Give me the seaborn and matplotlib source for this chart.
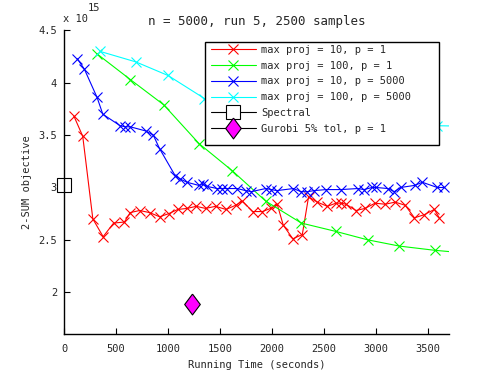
import matplotlib
matplotlib.use("Agg")
import matplotlib.pyplot as plt
from matplotlib.patches import Rectangle
import seaborn as sns

# objective values are in units of 1e15
red_t = [96, 180, 277, 376, 477, 581, 636, 726, 823, 919, 1006, 1093, 1183, 1270,
         1360, 1456, 1557, 1649, 1714, 1813, 1906, 1986, 2049, 2107, 2199, 2290,
         2350, 2435, 2531, 2613, 2666, 2710, 2806, 2893, 2989, 3086, 3182, 3279,
         3368, 3462, 3558, 3607]
red_v = [3.68, 3.49, 2.70, 2.53, 2.66, 2.67, 2.76, 2.78, 2.76, 2.72, 2.75, 2.79, 2.80, 2.82,
         2.80, 2.82, 2.79, 2.83, 2.87, 2.77, 2.77, 2.80, 2.84, 2.64, 2.51, 2.55,
         2.91, 2.86, 2.82, 2.85, 2.85, 2.84, 2.78, 2.80, 2.85, 2.84, 2.86, 2.83,
         2.71, 2.74, 2.79, 2.71]

green_t = [313, 639, 958, 1297, 1617, 1938, 2281, 2613, 2917, 3224, 3561, 3900]
green_v = [4.28, 4.03, 3.79, 3.42, 3.16, 2.87, 2.66, 2.58, 2.50, 2.44, 2.40, 2.37]

blue_t = [128, 196, 318, 373, 540, 588, 636, 786, 858, 919, 1070, 1119, 1181, 1295,
          1337, 1376, 1472, 1521, 1569, 1665, 1745, 1800, 1938, 1993, 2044, 2205,
          2276, 2340, 2404, 2517, 2661, 2823, 2883, 2960, 2999, 3112, 3173, 3235,
          3370, 3443, 3587, 3655]
blue_v = [4.23, 4.13, 3.86, 3.70, 3.59, 3.58, 3.58, 3.54, 3.50, 3.37, 3.11, 3.08, 3.05, 3.02,
          3.03, 3.01, 2.99, 2.99, 2.99, 2.99, 2.97, 2.96, 2.99, 2.98, 2.97, 2.99,
          2.96, 2.96, 2.97, 2.98, 2.98, 2.99, 2.98, 3.00, 3.00, 2.99, 2.96, 3.00,
          3.02, 3.05, 3.00, 3.00]

cyan_t = [347, 690, 1000, 1350, 1678, 1996, 2314, 2633, 2951, 3269, 3587, 3915]
cyan_v = [4.30, 4.20, 4.07, 3.85, 3.75, 3.69, 3.65, 3.62, 3.61, 3.60, 3.59, 3.585]

spectral_t = [0]
spectral_v = [3.02]
gurobi_t = [1234]
gurobi_v = [1.89]

labels = ["max proj = 10, p = 1", "max proj = 100, p = 1",
          "max proj = 10, p = 5000", "max proj = 100, p = 5000",
          "Spectral", "Gurobi 5% tol, p = 1"]

x_ticks = [0, 500, 1000, 1500, 2000, 2500, 3000, 3500]
y_ticks = [2, 2.5, 3, 3.5, 4, 4.5]

sns.set_style("white")
plt.rcParams['font.family'] = ['DejaVu Sans Mono']
plt.rcParams['font.size'] = 7.5
plt.rcParams['xtick.direction'] = 'in'
plt.rcParams['ytick.direction'] = 'in'

fig = plt.figure(figsize=(4.95, 3.75), dpi=100)
ax = fig.add_axes([0.1293, 0.1093, 0.7778, 0.8094])

series = [(red_t, red_v, "#ff0000"), (green_t, green_v, "#00ff00"),
          (blue_t, blue_v, "#0000ff"), (cyan_t, cyan_v, "#00ffff")]
for (t, v, c), lab in zip(series, labels[:4]):
    sns.lineplot(x=t, y=v, color=c, marker='x', markersize=6.5, markeredgewidth=0.8,
                 markeredgecolor=c, linewidth=0.8, label=lab, sort=False,
                 estimator=None, ax=ax, legend=False)

sns.lineplot(x=spectral_t, y=spectral_v, color='black', marker='s', markersize=10,
             markerfacecolor='white', markeredgecolor='black', markeredgewidth=0.8,
             linewidth=0.8, label=labels[4], clip_on=False, ax=ax, legend=False)
diamond = [(0, 1), (0.75, 0), (0, -1), (-0.75, 0), (0, 1)]
sns.lineplot(x=gurobi_t, y=gurobi_v, color='black', marker=diamond, markersize=15,
             markerfacecolor='#ff00ff', markeredgecolor='black', markeredgewidth=0.8,
             linewidth=0.8, label=labels[5], clip_on=False, ax=ax, legend=False)

ax.set_xlim(0, 3700)
ax.set_ylim(1.6, 4.5)
ax.set_xticks(x_ticks)
ax.set_xticklabels([str(v) for v in x_ticks])
ax.set_yticks(y_ticks)
ax.set_yticklabels([f"{v:g}" for v in y_ticks])
ax.tick_params(length=4, width=0.8, color='black', pad=7, bottom=True, left=True)
ax.tick_params(axis='y', pad=5)
for side in ['top', 'right']:
    ax.spines[side].set_visible(False)
for side in ['left', 'bottom']:
    ax.spines[side].set_color('black')
    ax.spines[side].set_linewidth(1.0)

ax.set_title("n = 5000, run 5, 2500 samples", pad=4)
ax.set_xlabel("Running Time (seconds)")
ax.set_ylabel("2-SUM objective")
ax.xaxis.set_label_coords(0.5, -0.085)
ax.yaxis.set_label_coords(-0.083, 0.5)

fig.text(63 / 495, 1 - 19 / 375, "x 10", ha='left', va='center')
fig.text(88 / 495, 1 - 8 / 375, "15", ha='left', va='center')

# legend box
box = Rectangle((205 / 495, 1 - 145 / 375), 234 / 495, 103 / 375,
                transform=fig.transFigure, facecolor='white', edgecolor='black',
                linewidth=1.0, zorder=4, clip_on=False)
ax.add_patch(box)
ax.legend(loc='upper left', bbox_to_anchor=(211 / 495, 1 - 45 / 375),
          bbox_transform=fig.transFigure, frameon=False, borderpad=0,
          borderaxespad=0, handlelength=4.3, handletextpad=0.5,
          labelspacing=0.55).set_zorder(5)

fig.savefig("out.png", dpi=100)
